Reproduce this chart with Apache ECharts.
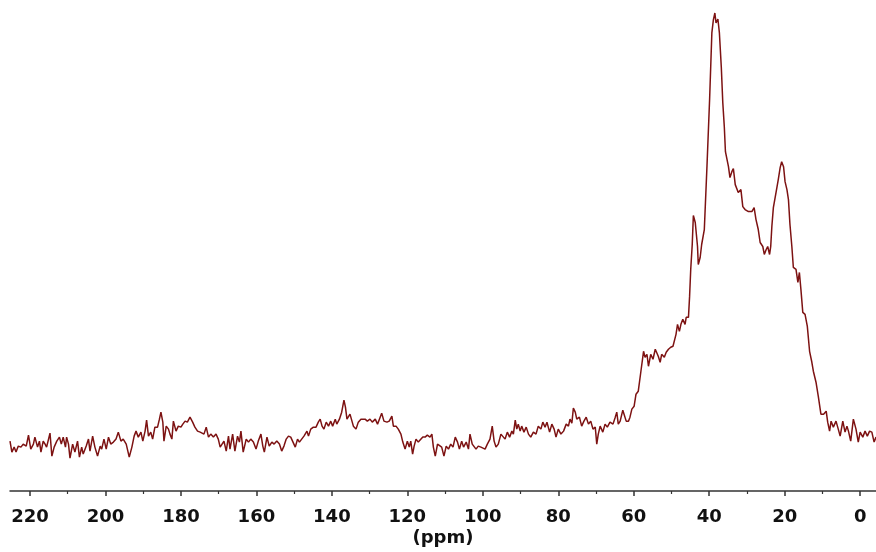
<!DOCTYPE html>
<html>
<head>
<meta charset="utf-8">
<script src="https://cdn.jsdelivr.net/npm/echarts@6/dist/echarts.min.js"></script>
<style>html,body{margin:0;padding:0;background:#fff}#c{width:876px;height:552px}</style>
</head>
<body>
<div id="c"></div>
<script>
var ppm = [225.3,224.8,224.2,223.7,223.1,222.4,221.8,221.0,220.4,219.8,219.1,218.7,218.0,217.5,217.1,216.5,216.0,215.6,214.7,214.2,213.6,212.9,212.2,211.7,211.2,210.6,210.3,209.8,209.4,208.7,208.1,207.4,206.9,206.3,205.9,205.1,204.5,204.1,203.4,202.8,202.1,201.4,201.0,200.4,199.8,199.2,198.6,197.9,197.2,196.6,195.9,195.3,194.5,193.7,193.0,192.4,191.9,191.3,190.6,190.1,189.5,189.1,188.6,188.0,187.5,186.9,186.2,185.7,185.3,184.8,184.5,183.9,183.3,182.9,182.4,182.0,181.3,180.7,180.0,179.5,178.9,178.3,177.6,176.9,176.3,175.6,174.9,174.5,173.9,173.3,172.7,172.1,171.4,170.7,170.1,169.6,
169.2,168.6,168.0,167.4,167.0,166.3,165.7,165.0,164.5,164.1,163.5,162.7,162.1,161.5,160.8,160.1,159.5,158.8,158.3,157.9,157.2,156.6,155.9,155.3,154.6,153.9,153.3,152.7,152.1,151.5,150.9,150.4,149.7,149.1,148.6,148.0,147.4,146.6,146.2,145.6,144.9,144.2,143.6,143.1,142.6,142.1,141.5,140.9,140.3,139.8,139.1,138.7,138.0,137.4,137.1,136.8,136.4,136.0,135.6,135.2,134.7,134.3,133.6,133.0,132.3,131.8,131.2,130.6,129.9,129.3,128.5,127.9,127.4,126.8,126.2,125.4,124.8,124.1,123.7,123.0,122.4,121.7,121.2,120.6,120.0,119.5,119.1,118.6,118.2,117.7,117.1,
116.6,115.9,115.3,114.7,114.0,113.5,113.1,112.6,112.0,111.5,110.9,110.3,109.7,109.1,108.5,107.9,107.3,106.7,106.2,105.6,105.1,104.4,103.8,103.4,102.8,102.3,101.8,101.2,100.5,100.0,99.4,98.8,98.1,97.5,97.0,96.5,95.9,95.2,94.7,94.1,93.5,92.9,92.3,91.9,91.4,91.0,90.6,90.1,89.7,89.1,88.5,87.9,87.3,86.6,85.9,85.3,84.6,84.1,83.5,83.0,82.3,81.7,81.1,80.6,80.0,79.3,78.6,77.9,77.3,76.9,76.4,76.0,75.5,75.1,74.4,73.8,73.2,72.6,72.0,71.4,70.8,70.2,69.8,69.4,68.9,68.2,67.6,67.0,66.3,65.5,64.9,64.5,64.1,63.6,62.9,62.0,61.4,61.0,60.5,59.9,59.4,58.8,58.1,57.4,57.0,56.5,56.1,55.5,54.9,54.3,53.9,53.5,53.0,52.6,51.9,51.4,50.8,50.2,49.6,49.3,48.8,48.4,47.9,47.5,47.0,46.4,46.1,45.5,45.2,44.9,44.5,44.2,43.7,43.1,42.9,42.4,42.0,41.3,40.6,39.9,39.3,38.9,38.5,38.2,37.7,37.3,36.8,36.4,36.0,35.7,35.3,34.9,34.5,34.0,33.6,33.1,32.9,32.3,31.6,31.1,30.5,29.6,28.7,28.1,27.6,27.0,26.5,25.8,25.4,24.9,24.5,24.0,23.7,23.4,23.0,22.3,21.7,21.2,20.8,20.3,19.9,19.4,19.0,18.6,18.1,17.7,17.0,16.5,16.1,15.7,15.2,14.6,14.0,13.4,12.8,12.4,11.7,11.1,10.4,9.7,9.0,8.6,8.1,7.7,7.1,6.4,5.8,5.3,4.6,4.0,3.5,3.1,2.5,1.8,1.1,0.5,0.0,-0.7,-1.3,-1.9,-2.5,-3.1,-3.7,-4.2];

var intensity = [50,39,44,39,45,44,47,45,56,42,47,54,44,50,39,50,47,44,58,35,44,50,54,47,54,44,54,47,33,47,39,50,34,44,37,45,52,40,55,44,35,45,42,52,42,54,47,49,52,59,50,52,47,34,44,55,60,54,59,50,60,71,55,59,52,64,64,72,79,69,50,65,62,57,52,70,60,65,64,67,70,69,74,69,64,60,59,60,57,64,54,57,54,57,52,44,
42,50,40,55,42,57,40,55,49,60,39,52,49,52,49,42,50,57,45,39,54,45,49,47,50,47,40,45,52,55,54,55,44,52,49,52,55,60,55,62,64,64,69,72,65,62,69,65,70,65,72,67,72,79,85,91,84,72,70,77,75,65,62,69,72,70,72,70,72,69,72,67,72,78,70,69,70,75,65,65,62,57,49,42,50,44,50,37,45,52,49,
50,54,54,56,54,57,44,35,47,49,44,35,45,42,47,44,54,49,42,50,44,49,42,57,47,45,42,45,44,45,42,47,52,65,50,44,47,57,59,52,59,54,60,57,71,62,67,60,65,59,64,57,54,59,57,65,62,69,64,69,59,67,62,54,62,57,60,67,65,72,68,83,79,72,74,65,70,74,67,70,62,64,47,57,65,59,67,64,69,67,74,79,67,70,81,70,70,74,82,85,97,100,120,140,134,137,125,137,132,142,142,135,129,137,134,139,142,144,145,144,157,167,160,167,172,167,174,174,195,222,247,276,269,245,227,234,247,262,325,392,459,472,479,469,473,459,425,389,365,340,339,325,314,320,323,307,305,299,302,285,282,280,280,284,272,262,249,245,237,242,245,237,245,265,284,299,312,324,330,325,310,302,292,267,245,224,222,209,219,202,179,177,165,140,129,120,109,95,77,77,80,69,60,70,64,70,62,55,70,59,65,60,50,72,62,49,59,54,60,55,60,59,49,54];

var majorTicks = [0,20,40,60,80,100,120,140,160,180,200,220];
var minorTicks = [10,30,50,70,90,110,130,150,170,190,210];
var xMin = -4.2, xMax = 225.3;

var data = ppm.map(function(p, i){ return [p, intensity[i]]; });

var chart = echarts.init(document.getElementById('c'), null, {renderer:'canvas'});
var font = 'DejaVu Sans';
chart.setOption({
  animation: false,
  backgroundColor: '#fff',
  grid: {left: 10, right: 0, top: 0, bottom: 60},
  xAxis: [{
    type: 'value', inverse: true, min: xMin, max: xMax,
    position: 'bottom',
    name: '(ppm)', nameLocation: 'middle', nameGap: 38, nameMoveOverlap: false,
    nameTextStyle: {fontFamily: font, fontWeight: 'bold', fontSize: 18, color: '#111'},
    axisLine: {show: true, onZero: false, lineStyle: {color: '#333', width: 1.5}},
    axisTick: {show: true, inside: false, length: 5, customValues: majorTicks, lineStyle: {color: '#333', width: 1.5}},
    axisLabel: {show: true, customValues: majorTicks, margin: 17, fontFamily: font, fontWeight: 'bold', fontSize: 18, color: '#111'},
    splitLine: {show: false}
  }, {
    type: 'value', inverse: true, min: xMin, max: xMax,
    position: 'bottom',
    axisLine: {show: false, onZero: false},
    axisTick: {show: true, length: 3, customValues: minorTicks, lineStyle: {color: '#333', width: 1.2}},
    axisLabel: {show: false},
    splitLine: {show: false}
  }],
  yAxis: {type: 'value', min: 0, max: 492, show: false, splitLine: {show: false}},
  series: [{
    type: 'line', data: data, xAxisIndex: 0, showSymbol: false, symbol: 'none',
    lineStyle: {color: '#7d1212', width: 1.5}
  }]
});
</script>
</body>
</html>
